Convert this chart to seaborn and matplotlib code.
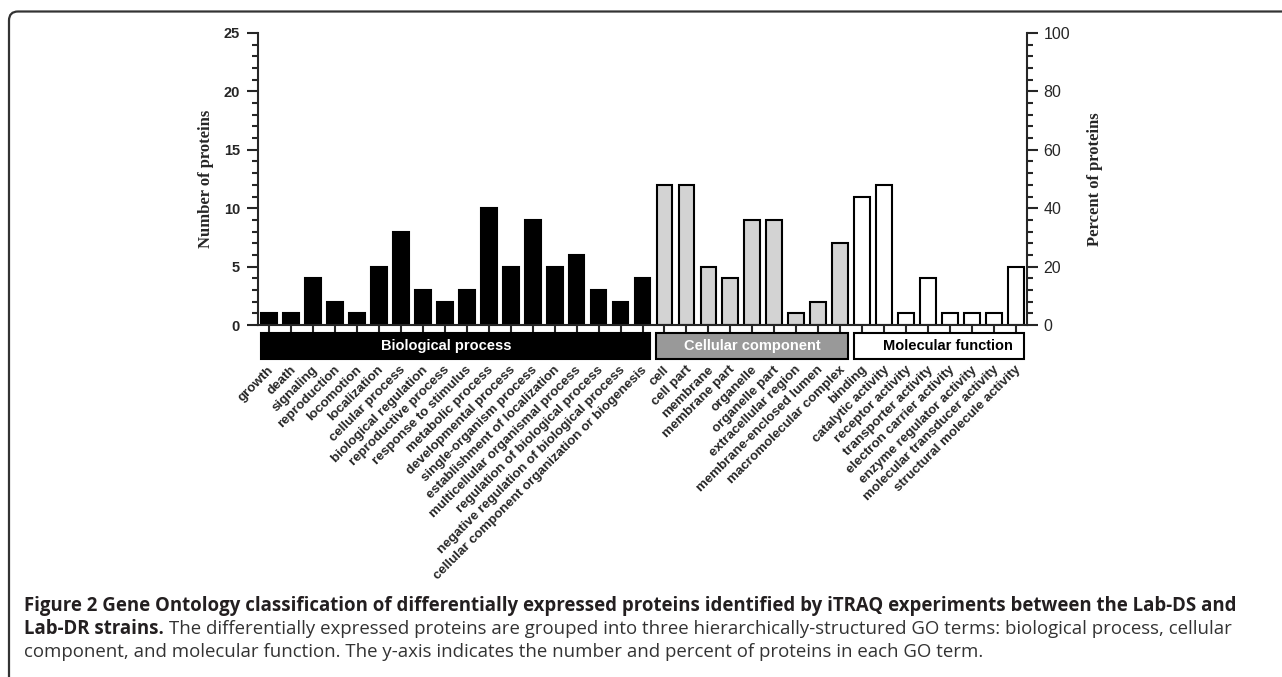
import pandas as pd
import matplotlib.pyplot as plt
import seaborn as sns
from matplotlib.patches import Rectangle, PathPatch
from matplotlib.path import Path
from matplotlib.transforms import IdentityTransform, ScaledTranslation, blended_transform_factory

# GO terms and protein counts
bp_terms = ["growth", "death", "signaling", "reproduction", "locomotion", "localization",
            "cellular process", "biological regulation", "reproductive process",
            "response to stimulus", "metabolic process", "developmental process",
            "single-organism process", "establishment of localization",
            "multicellular organismal process", "regulation of biological process",
            "negative regulation of biological process",
            "cellular component organization or biogenesis"]
bp_counts = [1, 1, 4, 2, 1, 5, 8, 3, 2, 3, 10, 5, 9, 5, 6, 3, 2, 4]

cc_terms = ["cell", "cell part", "membrane", "membrane part", "organelle", "organelle part",
            "extracellular region", "membrane-enclosed lumen", "macromolecular complex"]
cc_counts = [12, 12, 5, 4, 9, 9, 1, 2, 7]

mf_terms = ["binding", "catalytic activity", "receptor activity", "transporter activity",
            "electron carrier activity", "enzyme regulator activity",
            "molecular transducer activity", "structural molecule activity"]
mf_counts = [11, 12, 1, 4, 1, 1, 1, 5]

groups = ["Biological process", "Cellular component", "Molecular function"]
total_proteins = 25

df = pd.DataFrame({
    "term": bp_terms + cc_terms + mf_terms,
    "count": bp_counts + cc_counts + mf_counts,
    "group": [groups[0]] * len(bp_terms) + [groups[1]] * len(cc_terms) + [groups[2]] * len(mf_terms),
})

sns.set_style("ticks")
plt.rcParams["font.family"] = ["Liberation Sans", "DejaVu Sans"]

W, H = 1282, 677
fig = plt.figure(figsize=(W / 100, H / 100), dpi=100)
ax_left, ax_right, ax_bottom, ax_top = 258, 1027, 325, 33
ax_w, ax_h = ax_right - ax_left, ax_bottom - ax_top
ax = fig.add_axes([ax_left / W, 1 - ax_bottom / H, ax_w / W, ax_h / H])

bar_colors = {groups[0]: "black", groups[1]: "#d3d3d3", groups[2]: "white"}
sns.barplot(data=df, x="term", y="count", hue="group", order=df["term"], palette=bar_colors,
            dodge=False, width=0.72, saturation=1, edgecolor="black", linewidth=1.5,
            legend=False, ax=ax)

n = len(df)
ax.set_xlim(-0.5, n - 0.5)
ax.set_ylim(0, total_proteins)
ax.set_yticks(range(0, 26, 5))
ax.set_yticks(range(0, 26), minor=True)
ax.tick_params(axis="y", which="major", direction="out", length=8, width=1.5, pad=5,
               labelsize=10.5)
ax.tick_params(axis="y", which="minor", direction="out", length=4, width=1.5)
for t in ax.get_yticklabels():
    t.set_fontweight("bold")
ax.tick_params(axis="x", direction="out", length=5, width=1.5, labelbottom=False)
ax.set_xlabel("")
ax.set_ylabel("Number of proteins", family=["Liberation Serif", "DejaVu Serif"],
              fontweight="bold", fontsize=12, va="center", ha="center")
ax.yaxis.set_label_coords((206 - ax_left) / ax_w, 0.5)
for side in ["top", "right"]:
    ax.spines[side].set_visible(False)
for side in ["left", "bottom"]:
    ax.spines[side].set_linewidth(1.5)

ax2 = ax.twinx()
ax2.set_ylim(0, 100)
ax2.set_yticks(range(0, 101, 20))
ax2.set_yticks(range(0, 101, 4), minor=True)
ax2.tick_params(axis="y", which="major", direction="out", length=8, width=1.5, pad=4,
                labelsize=11.5)
ax2.tick_params(axis="y", which="minor", direction="out", length=4, width=1.5)
for side in ["top", "left", "bottom"]:
    ax2.spines[side].set_visible(False)
ax2.spines["right"].set_linewidth(1.5)
ax2.set_ylabel("Percent of proteins", family=["Liberation Serif", "DejaVu Serif"],
               fontweight="bold", fontsize=12, rotation=90, va="center", ha="center")
ax2.yaxis.set_label_coords((1095 - ax_left) / ax_w, 0.5)

# group boxes under the axis
trans = blended_transform_factory(ax.transData, ax.transAxes)
box_y0 = -(359 - ax_bottom) / ax_h
box_y1 = -(333 - ax_bottom) / ax_h
box_fill = ["black", "#999999", "white"]
box_text = ["white", "white", "black"]
text_dx = [-0.4, 0, 0.4]
start = 0
for g, fill, tc, dx, size in zip(groups, box_fill, box_text, text_dx,
                                 [len(bp_terms), len(cc_terms), len(mf_terms)]):
    x0 = start - 0.38
    x1 = start + size - 1 + 0.35
    ax.add_patch(Rectangle((x0, box_y0), x1 - x0, box_y1 - box_y0, transform=trans,
                           facecolor=fill, edgecolor="black", linewidth=1.5, clip_on=False))
    ax.text((x0 + x1) / 2 + dx, (box_y0 + box_y1) / 2, g, transform=trans, ha="center",
            va="center", color=tc, fontsize=10.5, fontweight="bold")
    start += size

# rotated category labels
lab_y = -(368 - ax_bottom) / ax_h
shift = ScaledTranslation(3 / 100, 0, fig.dpi_scale_trans)
for i, term in enumerate(df["term"]):
    ax.text(i, lab_y, term, transform=trans + shift, rotation=45, rotation_mode="anchor",
            ha="right", va="center", fontsize=9.6, fontweight="bold")

# panel frame: top and left edges with a rounded corner
ytop = H - 11.5
frame_path = Path([(9, -5), (9, ytop - 9), (9, ytop), (18, ytop), (W + 50, ytop)],
                  [Path.MOVETO, Path.LINETO, Path.CURVE3, Path.CURVE3, Path.LINETO])
fig.patches.append(PathPatch(frame_path, transform=IdentityTransform(), fill=False,
                             edgecolor="#333333", linewidth=1.6))

# caption
cap_font = ["Open Sans", "DejaVu Sans"]
cap_size = 13.4
fig.text(24 / W, 1 - 611 / H,
         "Figure 2 Gene Ontology classification of differentially expressed proteins identified by iTRAQ experiments between the Lab-DS and",
         family=cap_font, fontsize=cap_size, fontweight="bold", color="#231f20", va="baseline")
bold2 = fig.text(24 / W, 1 - 634 / H, "Lab-DR strains.", family=cap_font, fontsize=cap_size,
                 fontweight="bold", color="#231f20", va="baseline")
renderer = fig.canvas.get_renderer()
bb = bold2.get_window_extent(renderer)
fig.text((bb.x1 + 5) / W, 1 - 634 / H,
         "The differentially expressed proteins are grouped into three hierarchically-structured GO terms: biological process, cellular",
         family=cap_font, fontsize=cap_size, color="#333333", va="baseline")
fig.text(24 / W, 1 - 657 / H,
         "component, and molecular function. The y-axis indicates the number and percent of proteins in each GO term.",
         family=cap_font, fontsize=cap_size, color="#333333", va="baseline")

fig.savefig("out.png", dpi=100)
